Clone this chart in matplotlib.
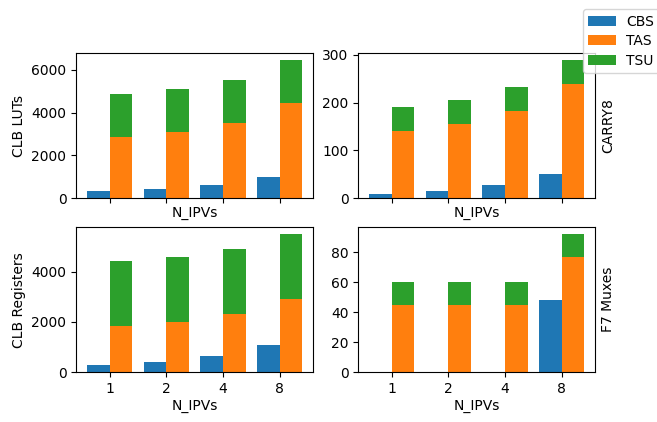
import matplotlib
matplotlib.use("Agg")
import matplotlib.pyplot as plt
import numpy as np

n_ipvs = ["1", "2", "4", "8"]

lut_cbs = [330, 420, 600, 980]
lut_tas = [2850, 3100, 3520, 4450]
lut_tsu = [2020, 2000, 2000, 2010]

carry_cbs = [8, 14, 27, 50]
carry_tas = [140, 155, 182, 239]
carry_tsu = [51, 50, 51, 50]

reg_cbs = [300, 420, 660, 1100]
reg_tas = [1830, 1990, 2300, 2900]
reg_tsu = [2590, 2590, 2600, 2600]

mux_cbs = [0, 0, 0, 48]
mux_tas = [45, 45, 45, 77]
mux_tsu = [15, 15, 15, 15]

panels = [
    ("CLB LUTs", lut_cbs, lut_tas, lut_tsu),
    ("CARRY8", carry_cbs, carry_tas, carry_tsu),
    ("CLB Registers", reg_cbs, reg_tas, reg_tsu),
    ("F7 Muxes", mux_cbs, mux_tas, mux_tsu),
]

fig, axs = plt.subplots(2, 2, sharex=True, figsize=(6.57, 4.22), dpi=100)
fig.subplots_adjust(left=0.116, right=0.906, bottom=0.118, top=0.874,
                    wspace=0.19, hspace=0.2)

x = np.arange(len(n_ipvs))
w = 0.4
for i, (ax, (name, cbs, tas, tsu)) in enumerate(zip(axs.flat, panels)):
    ax.bar(x, cbs, width=-w, align="edge", color="C0", label="CBS")
    ax.bar(x, tas, width=w, align="edge", color="C1", label="TAS")
    ax.bar(x, tsu, width=w, align="edge", bottom=tas, color="C2", label="TSU")
    ax.set_xlabel("N_IPVs", labelpad=2)
    ax.set_ylabel(name)
    if i % 2 == 1:
        ax.yaxis.set_label_position("right")
    ax.set_xticks(x)
    ax.set_xticklabels(n_ipvs)

# legend sits partly off the right edge, like the tight-cropped original
handles, labels = axs[0, 0].get_legend_handles_labels()
fig.legend(handles, labels, loc="upper right", bbox_to_anchor=(1.014, 0.995),
           labelspacing=0.4, handletextpad=0.7)

fig.savefig("out.png", dpi=100)
